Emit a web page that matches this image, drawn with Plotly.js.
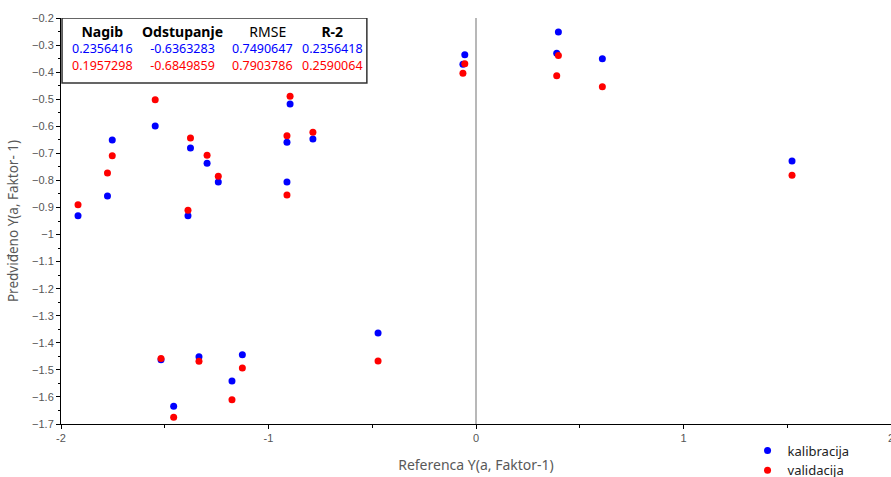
<!DOCTYPE html>
<html>
<head>
<meta charset="utf-8">
<script src="https://cdn.plot.ly/plotly-3.0.1.min.js"></script>
<style>html,body{margin:0;padding:0;background:#fff;}#chart{width:891px;height:477px;}</style>
</head>
<body>
<div id="chart"></div>
<script>
// Reference x values (shared by both series)
var refX = [-1.918, -1.776, -1.753, -1.546, -1.518, -1.376, -1.388, -1.457, -1.335, -1.296,
            -1.242, -1.176, -1.126, -0.911, -0.911, -0.896, -0.786, -0.472, -0.054, -0.063,
            0.397, 0.389, 0.609, 1.523];
// Predicted values, calibration
var kalibracija = [-0.931, -0.858, -0.651, -0.599, -1.463, -0.680, -0.931, -1.634, -1.452, -0.737,
                   -0.806, -1.541, -1.444, -0.659, -0.806, -0.518, -0.647, -1.364, -0.336, -0.371,
                   -0.252, -0.330, -0.351, -0.728];
// Predicted values, validation
var validacija = [-0.890, -0.773, -0.709, -0.502, -1.458, -0.643, -0.910, -1.675, -1.468, -0.707,
                  -0.785, -1.610, -1.493, -0.635, -0.854, -0.489, -0.622, -1.467, -0.369, -0.404,
                  -0.339, -0.413, -0.454, -0.781];
var seriesNames = ["kalibracija", "validacija"];
var tableHeaders = ["Nagib", "Odstupanje", "RMSE", "R-2"];
var statsKalibracija = ["0.2356416", "-0.6363283", "0.7490647", "0.2356418"];
var statsValidacija = ["0.1957298", "-0.6849859", "0.7903786", "0.2590064"];
var xTicks = [-2, -1, 0, 1, 2];

var colX = [-1.80, -1.415, -1.03, -0.69];
var headerPad = ['', '', '&nbsp;&nbsp;&nbsp;', ''];
var tf = 'Noto Sans, Open Sans, sans-serif';
var annotations = [];
tableHeaders.forEach(function (h, i) {
  var head = i === 2
    ? '<span style="font-size:14px;color:#000">' + headerPad[i] + h + '</span>'
    : '<span style="font-size:14px;color:#000"><b>' + h + '</b></span>';
  var txt = head + '<br>' +
    '<span style="color:#0000ff">' + statsKalibracija[i] + '</span><br>' +
    '<span style="color:#ff0000">' + statsValidacija[i] + '</span>';
  annotations.push({x: colX[i], y: -0.309, xref: 'x', yref: 'y', text: txt, showarrow: false,
    borderpad: 0, align: 'center', xanchor: 'center', yanchor: 'middle',
    font: {family: tf, size: 12.5, color: '#000'}});
});

var traces = [
  {x: refX, y: kalibracija, name: seriesNames[0], mode: 'markers', type: 'scatter',
   marker: {color: '#0000ff', size: 7}},
  {x: refX, y: validacija, name: seriesNames[1], mode: 'markers', type: 'scatter',
   marker: {color: '#ff0000', size: 7}}
];

var layout = {
  width: 891, height: 477,
  margin: {l: 61, r: 0, t: 18, b: 53, autoexpand: false},
  paper_bgcolor: '#fff', plot_bgcolor: '#fff',
  font: {family: 'Liberation Sans, Arial, sans-serif', color: '#555'},
  xaxis: {
    range: [-2, 2], tickvals: xTicks, ticktext: xTicks.map(String), ticklabeloverflow: 'allow',
    automargin: false,
    showgrid: false, zeroline: false, showline: true, linecolor: '#000', linewidth: 1,
    ticks: 'outside', ticklen: 4, tickcolor: '#000', tickfont: {size: 11, color: '#555'},
    minor: {dtick: 0.5, ticks: 'outside', ticklen: 3, tickcolor: '#000', showgrid: false},
    title: {text: 'Referenca Y(a, Faktor-1)', font: {family: tf, size: 14, color: '#595959'}, standoff: 16}
  },
  yaxis: {
    range: [-1.7, -0.2], dtick: 0.1, tick0: -0.2, automargin: false,
    showgrid: false, zeroline: false, showline: true, linecolor: '#000', linewidth: 1,
    ticks: 'outside', ticklen: 4, tickcolor: '#000', tickfont: {size: 11, color: '#555'},
    minor: {dtick: 0.05, ticks: 'outside', ticklen: 2, tickcolor: '#000', showgrid: false},
    title: {text: 'Predviđeno Y(a, Faktor- 1)', font: {family: tf, size: 13.5, color: '#595959'}, standoff: 10}
  },
  shapes: [
    {type: 'line', xref: 'x', yref: 'paper', x0: 0, x1: 0, y0: 0, y1: 1,
     line: {color: '#a0a0a0', width: 1.5}, layer: 'below'},
    {type: 'rect', xref: 'x', yref: 'y', x0: -1.995, x1: -0.526, y0: -0.2, y1: -0.44,
     line: {color: '#333', width: 1.5}, fillcolor: 'rgba(255,255,255,0)'}
  ],
  annotations: annotations,
  showlegend: true,
  legend: {xref: 'container', yref: 'container', x: 0.839, xanchor: 'left', y: 0.087, yanchor: 'top',
    bgcolor: 'rgba(0,0,0,0)',
    font: {family: tf, size: 13, color: '#222'},
    itemwidth: 30, tracegroupgap: 0}
};

Plotly.newPlot('chart', traces, layout, {staticPlot: true, displayModeBar: false});
</script>
</body>
</html>
